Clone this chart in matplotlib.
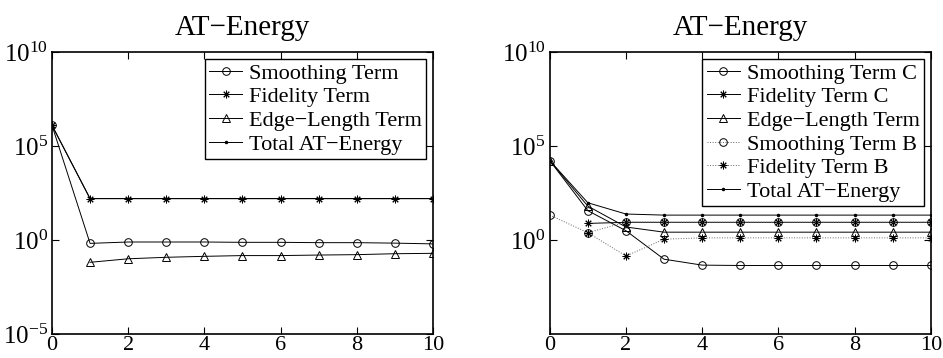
import numpy as np
import matplotlib
matplotlib.use("Agg")
import matplotlib.pyplot as plt
from matplotlib.ticker import FixedLocator, LogFormatterSciNotation

plt.rcParams['font.family'] = ['Liberation Serif', 'DejaVu Serif']
plt.rcParams['mathtext.fontset'] = 'stix'

iters = np.arange(11)
nan = np.nan

# left panel
smooth_left = [1.26e6, 0.66, 0.78, 0.78, 0.78, 0.75, 0.75, 0.72, 0.72, 0.68, 0.62]
fidelity_left = [1.26e6, 158, 158, 158, 158, 158, 158, 158, 158, 158, 158]
edge_left = [nan, 0.065, 0.10, 0.12, 0.135, 0.148, 0.148, 0.158, 0.166, 0.186, 0.195]
total_left = [1.26e6, 159, 159, 159, 159, 159, 159, 159, 159, 159, 159]

# right panel
smooth_c = [1.66e4, 36, 3.1, 0.095, 0.046, 0.044, 0.044, 0.044, 0.044, 0.044, 0.044]
fidelity_c = [nan, 7.6, 8.7, 8.7, 8.7, 8.7, 8.7, 8.7, 8.7, 8.7, 8.7]
edge_right = [1.66e4, 63, 4.9, 2.6, 2.6, 2.6, 2.6, 2.6, 2.6, 2.6, 2.6]
smooth_b = [21, 2.45, 9.0, 8.8, 8.8, 8.8, 8.8, 8.8, 8.8, 8.8, 8.8]
fidelity_b = [nan, 2.45, 0.14, 1.1, 1.3, 1.3, 1.3, 1.3, 1.3, 1.3, 1.3]
total_right = [1.66e4, 95, 24, 21, 21, 21, 21, 21, 21, 21, 21]

title = 'AT\u2212Energy'
star = (8, 2, 0)

fig = plt.figure(figsize=(9.43, 3.58), dpi=100)
ax1 = fig.add_axes([0.0551, 0.067, 0.404, 0.788])
ax2 = fig.add_axes([0.583, 0.067, 0.404, 0.788])

lw = 0.7
ms = 5.5
common = dict(color='black', lw=lw, mfc='none', mec='black', mew=0.7, ms=ms)

ax1.plot(iters, smooth_left, marker='o', label='Smoothing Term', **common)
ax1.plot(iters, fidelity_left, marker=star, label='Fidelity Term', **common)
ax1.plot(iters, edge_left, marker='^', label='Edge\u2212Length Term', **common)
ax1.plot(iters, total_left, marker='.', label='Total AT\u2212Energy',
         color='black', lw=lw, ms=3)

ax2.plot(iters, smooth_c, marker='o', label='Smoothing Term C', **common)
ax2.plot(iters, fidelity_c, marker=star, label='Fidelity Term C', **common)
ax2.plot(iters, edge_right, marker='^', label='Edge\u2212Length Term', **common)
ax2.plot(iters, smooth_b, marker='o', ls=':', label='Smoothing Term B',
         color='#666666', lw=lw, mfc='none', mec='black', mew=0.7, ms=ms)
ax2.plot(iters, fidelity_b, marker=star, ls=':', label='Fidelity Term B',
         color='#666666', lw=lw, mfc='none', mec='black', mew=0.7, ms=ms)
ax2.plot(iters, total_right, marker='.', label='Total AT\u2212Energy',
         color='black', lw=lw, ms=3)

for ax, yt in ((ax1, [1e-5, 1e0, 1e5, 1e10]), (ax2, [1e0, 1e5, 1e10])):
    ax.set_yscale('log')
    ax.set_ylim(1e-5, 1e10)
    ax.set_xlim(0, 10)
    ax.set_xticks([0, 2, 4, 6, 8, 10])
    ax.yaxis.set_major_locator(FixedLocator(yt))
    ax.yaxis.set_minor_locator(FixedLocator([]))
    ax.yaxis.set_major_formatter(LogFormatterSciNotation())
    ax.tick_params(direction='in', top=True, right=True, length=5, width=0.8)
    ax.tick_params(axis='y', labelsize=18, pad=3)
    ax.tick_params(axis='x', labelsize=16, pad=1.5)
    for s in ax.spines.values():
        s.set_linewidth(1.2)
    ax.set_title(title, fontsize=21, pad=12)
    leg = ax.legend(loc='upper right', fontsize=16, numpoints=1,
                    handlelength=1.5, handletextpad=0.3, borderpad=0.2,
                    labelspacing=0.14, borderaxespad=0.3, fancybox=False,
                    framealpha=1)
    leg.get_frame().set_edgecolor('black')
    leg.get_frame().set_linewidth(1.0)

fig.savefig('out.png', dpi=100)
